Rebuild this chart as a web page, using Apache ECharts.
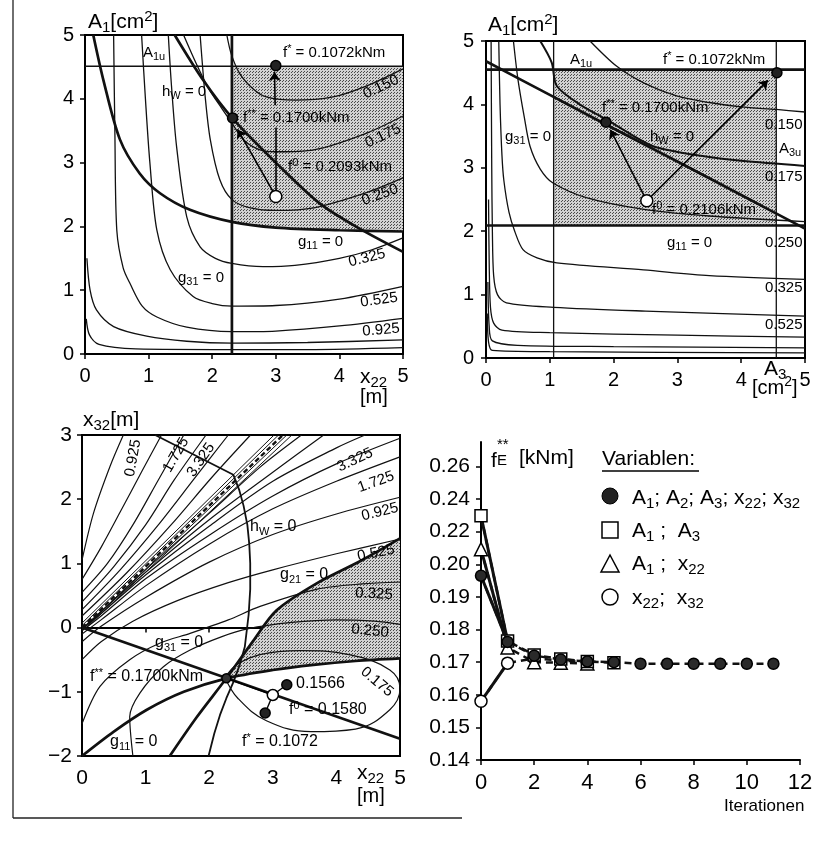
<!DOCTYPE html>
<html><head><meta charset="utf-8">
<script src="https://cdn.jsdelivr.net/npm/echarts@6/dist/echarts.min.js"></script>
<style>html,body{margin:0;padding:0;background:#fff}#c{width:821px;height:845px}</style>
</head><body><div id="c"></div>
<script>
// ---------------- PANEL 1 : x22 [m] vs A1 [cm2] ----------------
const p1_g31 = [[2.31,0],[2.31,5]];
const p1_A1u = [[0,4.51],[5,4.51]];
const p1_hW  = [[1.41,5.0],[1.86,4.29],[2.33,3.68],[3.0,3.0],[3.69,2.36],[4.29,1.98],[5.0,1.6]];
const p1_g11 = [[0.13,5.0],[0.29,4.29],[0.55,3.36],[0.86,2.83],[1.18,2.52],[1.65,2.26],[2.31,2.07],[3.0,1.98],[4.0,1.94],[5,1.92]];
const p1_c150 = [[2.23,5.0],[2.3,4.7],[2.43,4.4],[2.65,4.15],[2.85,4.03],[3.3,3.98],[3.9,4.03],[4.42,4.2],[5,4.47]];
const p1_c175 = [[1.55,5.0],[1.75,4.55],[1.95,4.15],[2.15,3.85],[2.31,3.62],[2.5,3.35],[2.75,3.2],[3.0,3.17],[3.6,3.2],[4.4,3.45],[5,3.73]];
const p1_c250 = [[1.81,5.0],[1.89,4.03],[1.97,3.36],[2.12,2.73],[2.31,2.42],[2.6,2.29],[3.0,2.25],[3.6,2.29],[4.4,2.52],[5,2.76]];
const p1_c325 = [[1.31,5.0],[1.36,4.2],[1.44,3.25],[1.6,2.15],[1.81,1.68],[2.05,1.5],[2.31,1.42],[2.8,1.37],[3.3,1.39],[4.0,1.5],[4.5,1.63],[5,1.82]];
const p1_c525 = [[0.89,5.0],[0.95,4.0],[1.02,3.0],[1.13,1.94],[1.34,1.32],[1.7,0.9],[2.0,0.79],[2.31,0.75],[3.0,0.76],[4.0,0.86],[5,1.06]];
const p1_c925 = [[0.45,5.0],[0.47,3.46],[0.5,1.94],[0.6,1.35],[0.71,1.1],[0.9,0.75],[1.13,0.58],[1.6,0.42],[2.31,0.35],[3.0,0.36],[4.0,0.44],[5,0.56]];
const p1_cA = [[0.03,1.5],[0.08,1.0],[0.18,0.69],[0.45,0.43],[0.97,0.28],[1.6,0.2],[2.31,0.17],[3.5,0.18],[5,0.22]];
const p1_cB = [[0.02,0.55],[0.07,0.3],[0.22,0.15],[0.8,0.08],[2.3,0.07],[3.5,0.07],[5,0.1]];
const p1_feasible = [[2.31,4.51],[5,4.51],[5,1.92],[4.0,1.94],[3.0,1.98],[2.31,2.07]];
const p1_fStar = [3.0,4.52], p1_fSS = [2.32,3.70], p1_f0 = [3.0,2.47];
const p1_arrowsHead = [[[3.0,2.47],[2.4,3.52]],[[2.99,3.9],[2.98,4.42]]];
const p1_plain = [[[3.0,2.55],[3.0,3.55]]];

// ---------------- PANEL 2 : A3 [cm2] vs A1 [cm2] ----------------
const p2_A1u = [[0,4.55],[5,4.55]];
const p2_g11 = [[0,2.09],[5,2.09]];
const p2_g31 = [[1.06,0],[1.06,5]];
const p2_A3u = [[4.55,0],[4.55,5]];
const p2_diag = [[0,4.68],[1,4.15],[2,3.62],[3,3.1],[4,2.57],[5,2.04]];
const p2_c150 = [[1.63,5.0],[2.05,4.6],[2.47,4.34],[3.0,4.13],[3.5,4.03],[4.0,3.96],[4.55,3.92],[5,3.88]];
const p2_c175 = [[0.85,5.0],[1.03,4.66],[1.11,4.29],[1.5,3.98],[1.89,3.76],[2.57,3.36],[3.0,3.25],[3.5,3.17],[4.0,3.11],[5,3.03]];
const p2_c250 = [[0.43,5.0],[0.5,4.4],[0.6,3.8],[0.69,3.34],[0.85,2.98],[1.05,2.76],[1.6,2.52],[2.5,2.34],[3.5,2.24],[5,2.15]];
const p2_c325 = [[0.2,5.0],[0.22,4.0],[0.25,3.2],[0.28,2.8],[0.36,2.3],[0.45,2.0],[0.58,1.71],[0.8,1.58],[1.11,1.5],[2.47,1.39],[3.5,1.3],[5,1.24]];
const p2_c525 = [[0.08,5.0],[0.09,3.0],[0.1,2.0],[0.12,1.3],[0.18,1.0],[0.32,0.87],[1.06,0.8],[2.5,0.74],[5,0.66]];
const p2_cA = [[0.04,2.5],[0.05,1.5],[0.07,0.8],[0.12,0.55],[0.25,0.44],[1.0,0.4],[3,0.36],[5,0.33]];
const p2_cB = [[0.03,1.2],[0.05,0.5],[0.1,0.27],[0.5,0.2],[2,0.18],[5,0.16]];
const p2_cC = [[0.02,0.7],[0.04,0.25],[0.1,0.12],[1,0.1],[5,0.08]];
const p2_feasible = [[1.06,4.55],[4.55,4.55],[4.55,2.09],[1.06,2.09]];
const p2_fStar = [4.56,4.5], p2_fSS = [1.88,3.72], p2_f0 = [2.52,2.48];
const p2_arrowsHead = [[[2.52,2.48],[1.95,3.6]],[[2.52,2.48],[4.42,4.38]]];

// ---------------- PANEL 3 : x22 [m] vs x32 [m] ----------------
const p3_hW = [[1.15,3.0],[2.38,2.38],[2.47,2.15],[2.54,1.9],[2.6,1.6],[2.63,1.3],[2.645,1.0],[2.645,0.6],[2.62,0.2],[2.56,-0.3],[2.48,-0.58],[2.38,-0.85],[2.27,-1.1],[2.17,-1.36],[2.08,-1.65],[1.99,-2.0]];
const p3_g11 = [[0,-2.0],[0.5,-1.62],[1.02,-1.28],[1.6,-1.0],[2.27,-0.79],[3.0,-0.66],[3.64,-0.58],[4.3,-0.52],[5,-0.48]];
const p3_g21 = [[1.38,-2.0],[1.8,-1.4],[2.27,-0.79],[2.69,-0.21],[3.06,0.27],[3.69,0.69],[4.4,1.05],[5,1.39]];
const p3_g31 = [[0,0],[5,-1.73]];
const p3_band = [[[0,0.07],[3.02,3.0]],[[0,0.03],[3.09,3.0]],[[0.03,0],[3.22,3.0]],[[0.07,0],[3.3,3.0]]];
const p3_bandMid = [[0,0],[3.16,3.0]];
const p3_U = [
  [[0,1.05],[0.18,1.78],[0.44,2.51],[0.65,3.0]],
  [[0,0.75],[0.3,1.25],[0.6,1.8],[0.95,2.45],[1.25,3.0]],
  [[0,0.55],[0.4,1.0],[0.8,1.6],[1.2,2.3],[1.6,3.0]],
  [[0,0.4],[0.5,0.95],[1.0,1.6],[1.45,2.3],[1.95,3.0]],
  [[0,0.28],[0.6,0.9],[1.2,1.6],[1.75,2.3],[2.3,3.0]],
  [[0,0.18],[0.7,0.85],[1.4,1.6],[2.05,2.35],[2.65,3.0]]
];
const p3_F = [
  [[0.1,0.05],[1.0,0.9],[2.0,1.78],[2.8,2.5],[3.45,3.0]],
  [[0,-0.02],[0.3,0.25],[1.0,0.86],[2.0,1.68],[3.0,2.42],[3.8,3.0]],
  [[0,-0.03],[0.3,0.22],[1.0,0.82],[2.0,1.58],[3.0,2.28],[4.0,2.8],[4.45,3.0]],
  [[0,-0.05],[0.3,0.18],[1.0,0.76],[2.0,1.44],[3.0,2.05],[4.0,2.55],[5,2.95]],
  [[0,-0.1],[0.3,0.12],[1.0,0.65],[2.0,1.3],[3.0,1.85],[4.0,2.28],[5,2.66]],
  [[0,-0.22],[0.3,0.02],[1.0,0.47],[2.0,1.02],[3.0,1.45],[4.0,1.77],[5,2.03]],
  [[0,-0.5],[0.3,-0.22],[0.8,0.1],[1.5,0.42],[2.3,0.7],[3.0,0.9],[4.0,1.15],[5,1.38]],
  [[0,-1.5],[0.28,-0.92],[0.75,-0.5],[1.23,-0.24],[1.7,-0.09],[2.3,0.12],[2.8,0.33],[3.7,0.6],[4.4,0.68],[5,0.71]],
  [[0.8,-2.0],[0.75,-1.39],[0.91,-1.02],[1.28,-0.61],[1.7,-0.35],[2.2,-0.14],[2.6,-0.02],[3.3,0.08],[4.0,0.12],[4.6,0.1],[5,0.05]]
];
const p3_c175 = [[2.25,-0.78],[2.43,-0.58],[2.8,-0.42],[3.43,-0.36],[4.2,-0.42],[4.84,-0.66],[5.0,-0.95],[4.84,-1.28],[4.3,-1.58],[3.6,-1.62],[2.9,-1.45],[2.45,-1.1],[2.25,-0.78]];
const p3_feasible = [[2.27,-0.79],[2.69,-0.21],[3.06,0.27],[3.69,0.69],[4.4,1.05],[5,1.39],[5,-0.48],[4.3,-0.52],[3.64,-0.58],[3.0,-0.66]];
const p3_fSS = [2.27,-0.79], p3_f0 = [3.0,-1.05], p3_dots = [[3.22,-0.89],[2.88,-1.33]];
const p3_links = [[[3.0,-1.05],[2.27,-0.79]],[[3.0,-1.05],[3.22,-0.89]],[[3.0,-1.05],[2.88,-1.33]]];

// ---------------- PANEL 4 : iterations ----------------
const p4_yTicks = [0.14,0.15,0.16,0.17,0.18,0.19,0.20,0.22,0.24,0.26];
const it_all   = [0,1,2,3,4,5,6,7,8,9,10,11];
const f_all    = [0.1965,0.1762,0.1720,0.1708,0.1702,0.1700,0.1695,0.1695,0.1695,0.1695,0.1695,0.1695];
const it_A1A3  = [0,1,2,3,4,5];
const f_A1A3   = [0.2298,0.1765,0.1722,0.1710,0.1702,0.1698];
const it_A1x22 = [0,1,2,3,4];
const f_A1x22  = [0.2093,0.1745,0.1700,0.1698,0.1696];
const it_x22x32= [0,1,2,3,4];
const f_x22x32 = [0.1580,0.1697,0.1712,0.1705,0.1700];

// ---------------- rendering ----------------
const FONT = 'Liberation Sans, Arial, Helvetica, sans-serif';
const INK = '#111';
const tY = v => v <= 0.2 ? v : 0.2 + (v - 0.2) / 2;          // broken scale above 0.20
const unY = t => t <= 0.2 + 1e-9 ? t : 0.2 + (t - 0.2) * 2;

function makePattern(){
  const c = document.createElement('canvas'); c.width = 3; c.height = 3;
  const g = c.getContext('2d'); g.fillStyle = '#d2d2d2'; g.fillRect(0,0,3,3);
  g.fillStyle = '#4a4a4a'; g.fillRect(0,0,1,1); g.fillRect(1,2,1,1);
  return c;
}
const pat = {image: makePattern(), repeat: 'repeat'};

function rt(s){
  let out = '', buf = '', i = 0;
  const flush = () => { if (buf) { out += '{n|' + buf + '}'; buf = ''; } };
  while (i < s.length) {
    const c = s[i];
    if (c === '_' || c === '^') {
      flush(); let t;
      if (s[i+1] === '{') { const j = s.indexOf('}', i); t = s.slice(i+2, j); i = j + 1; }
      else { t = s[i+1]; i += 2; }
      out += '{' + (c === '_' ? 'b' : 'p') + '|' + t + '}';
    } else { buf += c; i++; }
  }
  flush(); return out;
}
function richS(fs){
  const s = Math.round(fs * 0.7);
  return {
    n: {fontSize: fs, fontFamily: FONT, lineHeight: Math.round(fs * 1.25), fill: '#000'},
    b: {fontSize: s, fontFamily: FONT, lineHeight: s, verticalAlign: 'bottom', fill: '#000'},
    p: {fontSize: s, fontFamily: FONT, lineHeight: s, verticalAlign: 'top', fill: '#000'}
  };
}
function T(s, x, y, fs, rotDeg, align){
  return {type: 'text', x, y, z: 100, rotation: (rotDeg || 0) * Math.PI / 180,
    style: {text: rt(s), rich: richS(fs), fontSize: fs, fontFamily: FONT, fill: '#000',
      align: align || 'left', verticalAlign: 'middle'}};
}

const L = (gi, data, w, extra) => Object.assign({type: 'line', xAxisIndex: gi, yAxisIndex: gi, data,
  symbol: 'none', smooth: 0.3, silent: true, animation: false, lineStyle: {color: INK, width: w}, z: 3}, extra || {});
const poly = (gi, pts) => ({type: 'custom', xAxisIndex: gi, yAxisIndex: gi, silent: true, animation: false, z: 1,
  clip: true, data: [[pts[0][0], pts[0][1]]],
  renderItem: (p, api) => ({type: 'polygon', shape: {points: pts.map(q => api.coord(q))}, style: {fill: pat}})});
const S = (gi, pts, sym, size, fill) => ({type: 'scatter', xAxisIndex: gi, yAxisIndex: gi, data: pts, symbol: sym,
  symbolSize: size, itemStyle: {color: fill, borderColor: '#000', borderWidth: 1.5, opacity: 1}, z: 8, silent: true, animation: false});
const A = (gi, segs, head, w) => ({type: 'lines', coordinateSystem: 'cartesian2d', xAxisIndex: gi, yAxisIndex: gi,
  data: segs.map(s => ({coords: s})), symbol: ['none', head ? 'arrow' : 'none'], symbolSize: [0, 9],
  lineStyle: {color: '#000', width: w || 1.6, opacity: 1, curveness: 0}, z: 6, silent: true, animation: false});

const series = [];
// shading
series.push(poly(0, p1_feasible), poly(1, p2_feasible), poly(2, p3_feasible));
// panel 1
[p1_c150,p1_c175,p1_c250,p1_c325,p1_c525,p1_c925,p1_cA,p1_cB].forEach(d => series.push(L(0, d, 1.3)));
series.push(L(0, p1_A1u, 1.3, {smooth: false}));
series.push(L(0, p1_g31, 2.7, {smooth: false}), L(0, p1_hW, 2.7), L(0, p1_g11, 2.7));
series.push(A(0, p1_arrowsHead, true), A(0, p1_plain, false));
series.push(S(0, [p1_fStar, p1_fSS], 'circle', 10, '#222'), S(0, [p1_f0], 'circle', 12, '#fff'));
// panel 2
[p2_c150,p2_c250,p2_c325,p2_c525,p2_cA,p2_cB,p2_cC].forEach(d => series.push(L(1, d, 1.3)));
series.push(L(1, p2_c175, 2.0));
series.push(L(1, p2_g31, 1.3, {smooth: false}), L(1, p2_A3u, 1.3, {smooth: false}));
series.push(L(1, p2_A1u, 2.7, {smooth: false}), L(1, p2_g11, 2.7, {smooth: false}), L(1, p2_diag, 2.7));
series.push(A(1, p2_arrowsHead, true));
series.push(S(1, [p2_fStar, p2_fSS], 'circle', 10, '#222'), S(1, [p2_f0], 'circle', 12, '#fff'));
// panel 3
p3_U.forEach(d => series.push(L(2, d, 1.2)));
p3_F.forEach(d => series.push(L(2, d, 1.2)));
p3_band.forEach(d => series.push(L(2, d, 1.0, {smooth: false})));
series.push(L(2, p3_bandMid, 2.4, {smooth: false, lineStyle: {color: INK, width: 2.4, type: [5, 3]}}));
series.push(L(2, p3_c175, 1.2, {smooth: 0.4}));
series.push(L(2, p3_hW, 1.8, {smooth: false}));
series.push(L(2, p3_g11, 2.7), L(2, p3_g21, 2.7), L(2, p3_g31, 2.7, {smooth: false}));
series.push(A(2, p3_links, false, 1.4));
series.push(S(2, [p3_fSS], 'circle', 9, '#333'), S(2, p3_dots, 'circle', 10, '#222'), S(2, [p3_f0], 'circle', 11, '#fff'));
// panel 4
const p4 = [
  [it_x22x32, f_x22x32, 'circle', 12, '#fff'],
  [it_A1x22, f_A1x22, 'triangle', 13, '#fff'],
  [it_A1A3, f_A1A3, 'rect', 12, '#fff'],
  [it_all, f_all, 'circle', 11, '#2a2a2a']
];
p4.forEach(([xs, ys, sym, sz, fill], k) => {
  const pts = xs.map((x, i) => [x, tY(ys[i])]);
  series.push({type: 'line', xAxisIndex: 3, yAxisIndex: 3, data: pts.slice(0, 2), symbol: 'none', silent: true,
    animation: false, lineStyle: {color: INK, width: 3}, z: 2});
  series.push({type: 'line', xAxisIndex: 3, yAxisIndex: 3, data: pts, symbol: sym, symbolSize: sz, showSymbol: true,
    silent: true, animation: false, itemStyle: {color: fill, borderColor: '#000', borderWidth: 1.5},
    lineStyle: {color: INK, width: 2.5, type: [7, 5]}, z: 4 + k});
});

const axLine = {show: true, lineStyle: {color: '#000', width: 2}};
const axTick = {show: true, length: 5, lineStyle: {color: '#000', width: 1.5}};
const lab = (fs, margin, fmt) => ({color: '#000', fontSize: fs, fontFamily: FONT, margin, formatter: fmt});
const num = v => (v < 0 ? '\u2212' + (-v) : '' + v);
function vAx(gi, min, max, interval, fs, margin, fmt, extra){
  return Object.assign({type: 'value', gridIndex: gi, min, max, interval, axisLine: axLine, axisTick: axTick,
    axisLabel: lab(fs, margin, fmt || num), splitLine: {show: false}}, extra || {});
}

const p4Tick = p4_yTicks.map(tY);
const option = {
  backgroundColor: '#fff',
  animation: false,
  grid: [
    {left: 85, top: 35, width: 318, height: 319, show: true, borderColor: '#000', borderWidth: 2, backgroundColor: 'transparent'},
    {left: 486, top: 41, width: 319, height: 317, show: true, borderColor: '#000', borderWidth: 2, backgroundColor: 'transparent'},
    {left: 82, top: 435, width: 318, height: 321, show: true, borderColor: '#000', borderWidth: 2, backgroundColor: 'transparent'},
    {left: 481, top: 442, width: 319, height: 318, show: false}
  ],
  xAxis: [
    vAx(0, 0, 5, 1, 20, 12),
    vAx(1, 0, 5, 1, 20, 12),
    vAx(2, 0, 5, 1, 21, 12),
    vAx(3, 0, 12, 2, 22, 12)
  ],
  yAxis: [
    vAx(0, 0, 5, 1, 20, 11),
    vAx(1, 0, 5, 1, 20, 12),
    vAx(2, -2, 3, 1, 21, 10),
    vAx(3, 0.14, 0.2375, 0.01, 21, 11, v => {
      if (Math.abs(v * 100 - Math.round(v * 100)) > 1e-6 || v > 0.2301) return '';
      return unY(v).toFixed(2);
    }, {axisTick: Object.assign({}, axTick, {customValues: p4Tick}),
        axisLabel: Object.assign(lab(21, 11, v => unY(v).toFixed(2)), {customValues: p4Tick})})
  ],
  series,
  graphic: [
    // outer frame of the figure
    {type: 'line', z: 100, shape: {x1: 13, y1: 0, x2: 13, y2: 818}, style: {stroke: '#222', lineWidth: 1.3}},
    {type: 'line', z: 100, shape: {x1: 13, y1: 818, x2: 462, y2: 818}, style: {stroke: '#222', lineWidth: 1.3}},
    // panel 1
    T('A_1[cm^2]', 88, 22, 21),
    T('x_{22}', 360, 377, 21), T('[m]', 360, 397, 20),
    T('A_{1u}', 143, 53, 15), T('h_W = 0', 162, 92, 15),
    T('f^* = 0.1072kNm', 283, 53, 15), T('f^{**} = 0.1700kNm', 243, 118, 15),
    T('f^0 = 0.2093kNm', 288, 167, 15), T('g_{11} = 0', 298, 242, 15), T('g_{31} = 0', 178, 278, 15),
    T('0.150', 381, 87, 15, 25, 'center'), T('0.175', 383, 136, 15, 25, 'center'),
    T('0.250', 380, 195, 15, 20, 'center'), T('0.325', 367, 258, 15, 14, 'center'),
    T('0.525', 379, 300, 15, 8, 'center'), T('0.925', 381, 330, 15, 5, 'center'),
    // panel 2
    T('A_1[cm^2]', 488, 25, 21),
    T('A_3', 764, 369, 21), T('[cm^2]', 752, 388, 20),
    T('A_{1u}', 570, 60, 15), T('f^* = 0.1072kNm', 663, 60, 15),
    T('f^{**} = 0.1700kNm', 602, 108, 15), T('h_W = 0', 650, 137, 15),
    T('g_{31} = 0', 505, 137, 15), T('f^0 = 0.2106kNm', 652, 210, 15), T('g_{11} = 0', 667, 243, 15),
    T('0.150', 765, 125, 15), T('A_{3u}', 779, 149, 15), T('0.175', 765, 177, 15),
    T('0.250', 765, 243, 15), T('0.325', 765, 288, 15), T('0.525', 765, 325, 15),
    // panel 3
    T('x_{32}[m]', 83, 420, 21),
    T('x_{22}', 357, 773, 21), T('[m]', 357, 796, 20),
    T('0.925', 133, 458, 15, 80, 'center'), T('1.725', 176, 455, 15, 60, 'center'), T('3.325', 201, 460, 15, 55, 'center'),
    T('3.325', 355, 460, 15, 25, 'center'), T('1.725', 376, 482, 15, 20, 'center'), T('0.925', 380, 512, 15, 14, 'center'),
    T('0.525', 376, 553, 15, 11, 'center'), T('0.325', 374, 594, 15, -3, 'center'), T('0.250', 370, 631, 15, -6, 'center'),
    T('0.175', 377, 682, 15, -40, 'center'),
    T('h_W = 0', 250, 527, 16), T('g_{21} = 0', 280, 575, 16), T('g_{31} = 0', 155, 643, 16),
    T('f^{**} = 0.1700kNm', 90, 677, 16), T('0.1566', 296, 684, 16), T('f^0 = 0.1580', 289, 710, 16),
    T('f^* = 0.1072', 242, 742, 16), T('g_{11} = 0', 110, 742, 16),
    // panel 4
    T('f', 491, 461, 21), T('_E', 497, 461, 21), T('**', 497, 445, 15), T('[kNm]', 519, 458, 21),
    T('Variablen:', 602, 459, 21),
    {type: 'line', z: 100, shape: {x1: 602, y1: 471, x2: 699, y2: 471}, style: {stroke: '#000', lineWidth: 1.3}},
    {type: 'circle', z: 100, shape: {cx: 610, cy: 496, r: 8}, style: {fill: '#222', stroke: '#000', lineWidth: 1}},
    {type: 'rect', z: 100, shape: {x: 602, y: 522, width: 16, height: 16}, style: {fill: '#fff', stroke: '#000', lineWidth: 1.5}},
    {type: 'polygon', z: 100, shape: {points: [[610, 555], [601, 572], [619, 572]]}, style: {fill: '#fff', stroke: '#000', lineWidth: 1.5}},
    {type: 'circle', z: 100, shape: {cx: 610, cy: 597, r: 8}, style: {fill: '#fff', stroke: '#000', lineWidth: 1.5}},
    T('A_1; A_2; A_3; x_{22}; x_{32}', 632, 498, 21),
    T('A_1 ;  A_3', 632, 531, 21), T('A_1 ;  x_{22}', 632, 564, 21), T('x_{22};  x_{32}', 632, 598, 21),
    T('Iterationen', 724, 806, 17)
  ]
};
const chart = echarts.init(document.getElementById('c'), null, {renderer: 'canvas'});
chart.setOption(option);
</script></body></html>
